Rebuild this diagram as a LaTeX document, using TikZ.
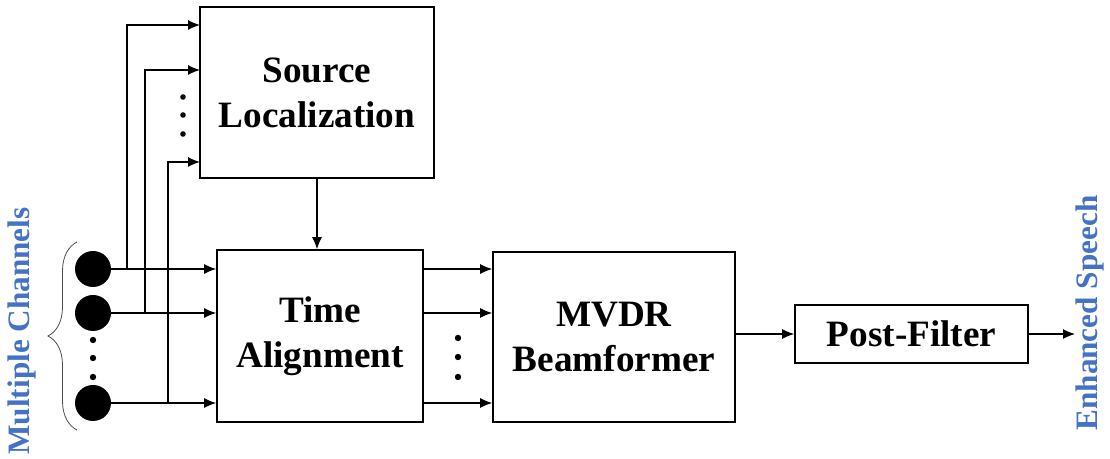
\documentclass[tikz,border=0pt]{standalone}
\usepackage{fontspec}
\setmainfont{Liberation Serif}
\usetikzlibrary{arrows.meta,decorations.pathreplacing}
\definecolor{labelblue}{RGB}{68,114,196}
\tikzset{
	block/.style={draw, thick, bold font, align=center, inner sep=0pt},
	bold font/.style={font=\fontsize{18.6}{22.5}\selectfont\bfseries},
	mic/.style={circle, fill=black, minimum size=18pt, inner sep=0pt},
	sig/.style={-{Latex[length=6pt,width=5pt]}, semithick},
	side label/.style={text=labelblue, rotate=90, font=\fontsize{15.6}{18}\selectfont\bfseries}
}
\begin{document}
\begin{tikzpicture}[x=0.5pt,y=-0.5pt]
		\useasboundingbox (0,0) rectangle (1110,459);

		% processing blocks
		\node[block, minimum width=117pt, minimum height=85.5pt] (loc) at (317,92.5) {Source\\Localization};
		\node[block, minimum width=103pt, minimum height=86pt] (align) at (320,336) {Time\\Alignment};
		\node[block, minimum width=121pt, minimum height=85pt] (mvdr) at (614,337) {MVDR\\Beamformer};
		\node[block, minimum width=116.5pt, minimum height=29pt] (post) at (911.5,334) {Post-Filter};

		% microphones
		\node[mic] (c1) at (93,269) {};
		\node[mic] (c2) at (93,313) {};
		\node[mic] (cn) at (93,403) {};
		\foreach \y in {340,358,377} \fill (93,\y) circle (1.6pt);

		\draw[sig] (c1) -- (c1 -| align.west);
		\draw[sig] (c2) -- (c2 -| align.west);
		\draw[sig] (cn) -- (cn -| align.west);

		% branches to the localization
		\coordinate (b1) at (127,269);
		\coordinate (b2) at (145,313);
		\coordinate (bn) at (168,403);
		\coordinate (s1) at (200,25);
		\coordinate (s2) at (200,70);
		\coordinate (sn) at (200,162);
		\draw[sig] (b1) |- (s1);
		\draw[sig] (b2) |- (s2);
		\draw[sig] (bn) |- (sn);
		\foreach \y in {97,115,134} \fill (183,\y) circle (1.4pt);

		\draw[sig] (loc.south) -- (loc.south |- align.north);

		% aligned channels
		\foreach \y in {269,313,403}
			\draw[sig] (align.east |- 0,\y) -- (mvdr.west |- 0,\y);
		\foreach \y in {338,357,377} \fill (458,\y) circle (1.6pt);

		\draw[sig] (mvdr.east |- post.west) -- (post.west);
		\coordinate (out) at (1075,334);
		\draw[sig] (post.east) -- (out);

		% labels
		\draw[gray!60!black, decorate, decoration={brace, amplitude=14.5pt}] (77,430) -- (77,242);
		\node[side label] (chan) at (22,331) {\textbf{Multiple Channels}};
		\node[side label] (speech) at (1090,313) {\textbf{Enhanced Speech}};
	\end{tikzpicture}
\end{document}
